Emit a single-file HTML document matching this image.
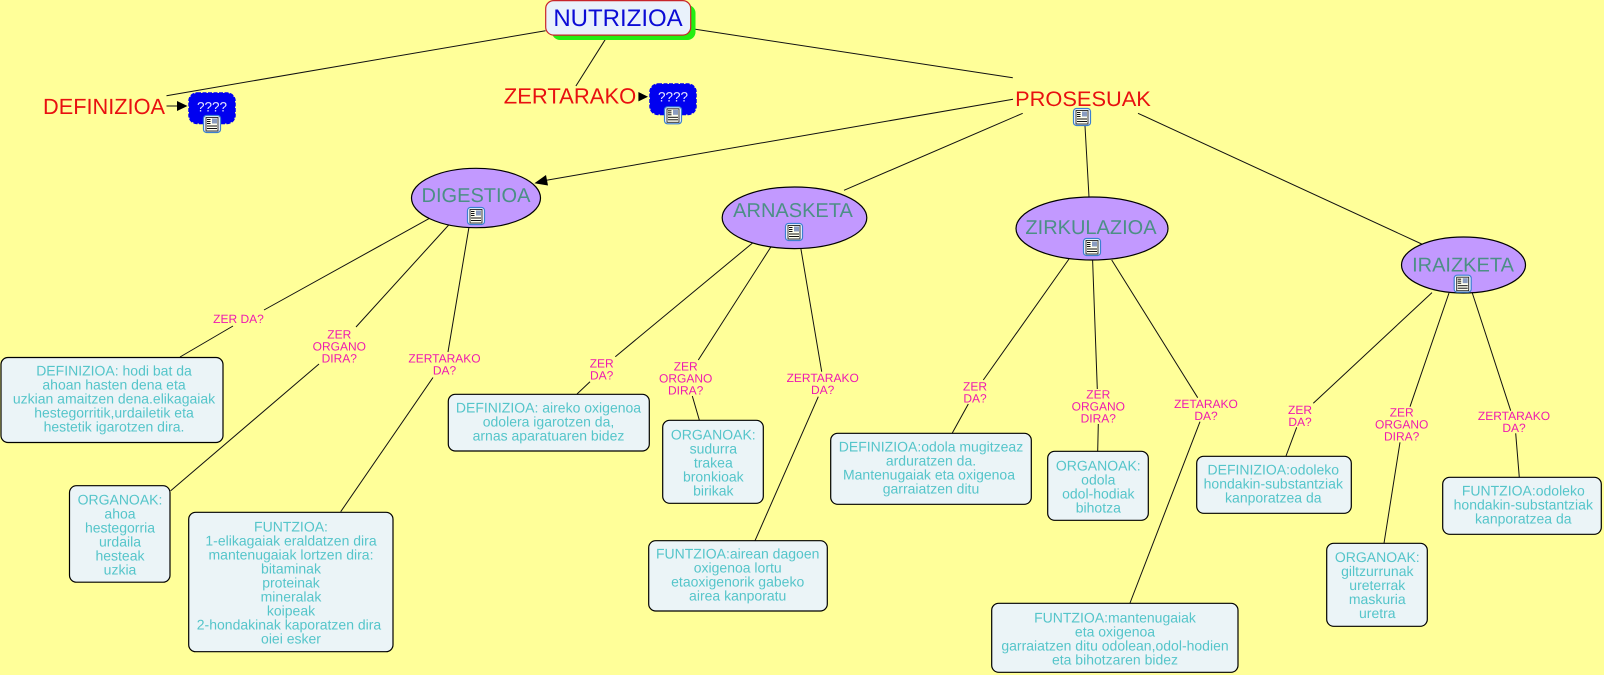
<!DOCTYPE html>
<html><head><meta charset="utf-8"><title>NUTRIZIOA</title>
<style>
html,body{margin:0;padding:0;background:#ffff99;width:1604px;height:675px;overflow:hidden}
svg{display:block}
text{font-family:"Liberation Sans",sans-serif;text-anchor:middle;text-rendering:geometricPrecision}
.l{stroke:#111;stroke-width:1;fill:none}
.b{fill:#ebf4f7;stroke:#000;stroke-width:1.2}
.t{font-size:14px;fill:#55c5ca}
.p{font-size:12px;fill:#ee1ab0}
.e{fill:#c299ff;stroke:#000;stroke-width:1.2}
.h{font-size:20px;fill:#4c8f86}
.r{fill:#e81010}
</style></head><body>
<svg width="1604" height="675" viewBox="0 0 1604 675" xmlns="http://www.w3.org/2000/svg">
<defs>
<g id="ic">
<rect x="-8.5" y="-8.5" width="17" height="17" rx="3" fill="#f2f7ff" stroke="#3b7fd0" stroke-width="1.2"/>
<rect x="-6" y="-6.5" width="12" height="13.5" fill="#fffff0" stroke="#222" stroke-width="0.9"/>
<rect x="0" y="-5.5" width="5" height="5" fill="#8a9cc0"/>
<rect x="-5" y="-5" width="3.5" height="1" fill="#111"/><rect x="-5" y="-3" width="3.5" height="1" fill="#111"/><rect x="-5" y="-1" width="3.5" height="1" fill="#111"/>
<rect x="-5" y="1.5" width="10" height="1" fill="#111"/><rect x="-5" y="4" width="10" height="1" fill="#111"/>
</g>
</defs>
<rect width="1604" height="675" fill="#ffff99"/>

<!-- connectors -->
<path class="l" d="M545.5 30.7L166.5 95.7M605.4 39.3L575.9 86M695.3 29.3L1012.8 77.7"/>
<path class="l" d="M166.5 106H178M639 96.7H640"/>
<path class="l" d="M1013 99.3L545 180.5M1022.7 113.3L844 190.3M1085 126L1089 197M1138 113.3L1421.7 244"/>
<path d="M187.5 106L177 101V111Z" fill="#000"/>
<path d="M648 96.7L638.4 92V101.4Z" fill="#000"/>
<path d="M534.4 183.3L546 175L548 185.5Z" fill="#000"/>
<path class="l" d="M429.5 218.3L264 310M233 326L180 357M448.7 225L356 327M319 364L170.7 490.7M469 227L448 352M433 377.5L340.7 511.7"/>
<path class="l" d="M758 238.5L615.3 356.7M590 381.7L577 394M774.4 241.5L698.3 360M692.3 396L699.3 420M800 243.5L821.7 371.7M818.3 396.7L755 540.7"/>
<path class="l" d="M1069 259L983.3 380M968.3 404L952.3 433M1092.6 260L1097.3 389M1098.3 424L1097.7 451M1111.7 260L1197.7 397.7M1200 421.7L1130 603"/>
<path class="l" d="M1432 292.6L1313.3 403.3M1296.7 427.3L1286 456M1449 293L1410 406.7M1400 442.3L1384 543.3M1472.3 293L1510.7 410.7M1515.7 433.3L1519.3 477.3"/>

<!-- root -->
<rect x="552" y="5" width="143.500" height="35" rx="8" fill="#22ee11"/>
<rect x="545.700" y="0.600" width="145" height="34.500" rx="8" fill="#e9f1fb" stroke="#c8242a" stroke-width="1.200"/>
<text x="618" y="26" font-size="24" fill="#0b0bd6">NUTRIZIOA</text>

<!-- top concepts -->
<text x="104" y="114" font-size="22" class="r" textLength="122" lengthAdjust="spacingAndGlyphs">DEFINIZIOA</text>
<text x="570" y="103.300" font-size="22" class="r" textLength="132.500" lengthAdjust="spacingAndGlyphs">ZERTARAKO</text>
<text x="1083" y="106" font-size="21" class="r" textLength="135.700" lengthAdjust="spacingAndGlyphs">PROSESUAK</text>

<rect x="189" y="93" width="46" height="30.500" rx="8" fill="#0000f0" stroke="#0000f0" stroke-width="1.500" stroke-dasharray="4 1.500"/>
<text x="212" y="111.700" font-size="13.500" fill="#e8e8ff">????</text>
<rect x="650" y="84" width="46" height="30.500" rx="8" fill="#0000f0" stroke="#0000f0" stroke-width="1.500" stroke-dasharray="4 1.500"/>
<text x="673" y="101.700" font-size="13.500" fill="#e8e8ff">????</text>

<!-- process ellipses -->
<ellipse class="e" cx="476" cy="198" rx="64.500" ry="29.700"/>
<text class="h" x="476" y="202">DIGESTIOA</text>
<ellipse class="e" cx="794.500" cy="217.800" rx="72.300" ry="30.800"/>
<text class="h" x="793" y="217">ARNASKETA</text>
<ellipse class="e" cx="1092" cy="228.500" rx="76" ry="31.500"/>
<text class="h" x="1091" y="234">ZIRKULAZIOA</text>
<ellipse class="e" cx="1463.500" cy="265" rx="62" ry="28"/>
<text class="h" x="1463" y="271.300">IRAIZKETA</text>

<use href="#ic" x="212" y="124"/>
<use href="#ic" x="673" y="115.300"/>
<use href="#ic" x="1082" y="117"/>
<use href="#ic" x="476" y="216"/>
<use href="#ic" x="794" y="232"/>
<use href="#ic" x="1092" y="247"/>
<use href="#ic" x="1462.700" y="283.700"/>

<!-- link labels -->
<text class="p" x="238.500" y="323">ZER DA?</text>
<text class="p" x="339.300"><tspan x="339.300" y="338.700">ZER</tspan><tspan x="339.300" y="350.700">ORGANO</tspan><tspan x="339.300" y="362.700">DIRA?</tspan></text>
<text class="p"><tspan x="444.500" y="362.700">ZERTARAKO</tspan><tspan x="444.500" y="374.700">DA?</tspan></text>
<text class="p"><tspan x="601.700" y="367.300">ZER</tspan><tspan x="601.700" y="379.300">DA?</tspan></text>
<text class="p"><tspan x="685.700" y="370.700">ZER</tspan><tspan x="685.700" y="382.700">ORGANO</tspan><tspan x="685.700" y="394.700">DIRA?</tspan></text>
<text class="p"><tspan x="822.700" y="382">ZERTARAKO</tspan><tspan x="822.700" y="394">DA?</tspan></text>
<text class="p"><tspan x="975" y="390.700">ZER</tspan><tspan x="975" y="402.700">DA?</tspan></text>
<text class="p"><tspan x="1098.300" y="398.700">ZER</tspan><tspan x="1098.300" y="410.700">ORGANO</tspan><tspan x="1098.300" y="422.700">DIRA?</tspan></text>
<text class="p"><tspan x="1206" y="408">ZETARAKO</tspan><tspan x="1206" y="420">DA?</tspan></text>
<text class="p"><tspan x="1300" y="414">ZER</tspan><tspan x="1300" y="426">DA?</tspan></text>
<text class="p"><tspan x="1401.700" y="416.700">ZER</tspan><tspan x="1401.700" y="428.700">ORGANO</tspan><tspan x="1401.700" y="440.700">DIRA?</tspan></text>
<text class="p"><tspan x="1514" y="420">ZERTARAKO</tspan><tspan x="1514" y="432">DA?</tspan></text>

<!-- boxes -->
<rect class="b" x="1" y="357.500" width="222" height="85" rx="7"/>
<text class="t"><tspan x="114" y="375.700">DEFINIZIOA: hodi bat da</tspan><tspan x="114" y="389.700">ahoan hasten dena eta</tspan><tspan x="114" y="403.700">uzkian amaitzen dena.elikagaiak</tspan><tspan x="114" y="417.700">hestegorritik,urdailetik eta</tspan><tspan x="114" y="431.700">hestetik igarotzen dira.</tspan></text>

<rect class="b" x="69.500" y="485.700" width="100.500" height="96.500" rx="7"/>
<text class="t"><tspan x="120" y="504.300">ORGANOAK:</tspan><tspan x="120" y="518.300">ahoa</tspan><tspan x="120" y="532.300">hestegorria</tspan><tspan x="120" y="546.300">urdaila</tspan><tspan x="120" y="560.300">hesteak</tspan><tspan x="120" y="574.300">uzkia</tspan></text>

<rect class="b" x="188.700" y="512.300" width="204.300" height="139.400" rx="7"/>
<text class="t"><tspan x="291" y="531.300">FUNTZIOA:</tspan><tspan x="291" y="545.300">1-elikagaiak eraldatzen dira</tspan><tspan x="291" y="559.300">mantenugaiak lortzen dira:</tspan><tspan x="291" y="573.300">bitaminak</tspan><tspan x="291" y="587.300">proteinak</tspan><tspan x="291" y="601.300">mineralak</tspan><tspan x="291" y="615.300">koipeak</tspan><tspan x="289" y="629.300">2-hondakinak kaporatzen dira</tspan><tspan x="291" y="643.300">oiei esker</tspan></text>

<rect class="b" x="448.300" y="394.300" width="201" height="56.700" rx="7"/>
<text class="t"><tspan x="548.500" y="412.700">DEFINIZIOA: aireko oxigenoa</tspan><tspan x="548.500" y="426.700">odolera igarotzen da,</tspan><tspan x="548.500" y="440.700">arnas aparatuaren bidez</tspan></text>

<rect class="b" x="662.700" y="420.300" width="100.600" height="83" rx="7"/>
<text class="t"><tspan x="713.300" y="439.300">ORGANOAK:</tspan><tspan x="713.300" y="453.300">sudurra</tspan><tspan x="713.300" y="467.300">trakea</tspan><tspan x="713.300" y="481.300">bronkioak</tspan><tspan x="713.300" y="495.300">birikak</tspan></text>

<rect class="b" x="648.700" y="540.700" width="178.600" height="70.300" rx="7"/>
<text class="t"><tspan x="737.700" y="558.300">FUNTZIOA:airean dagoen</tspan><tspan x="737.700" y="572.300">oxigenoa lortu</tspan><tspan x="737.700" y="586.300">etaoxigenorik gabeko</tspan><tspan x="737.700" y="600.300">airea kanporatu</tspan></text>

<rect class="b" x="830.700" y="433.300" width="200.600" height="71" rx="7"/>
<text class="t"><tspan x="931" y="451.700">DEFINIZIOA:odola mugitzeaz</tspan><tspan x="931" y="465.700">arduratzen da.</tspan><tspan x="929" y="479.700">Mantenugaiak eta oxigenoa</tspan><tspan x="931" y="493.700">garraiatzen ditu</tspan></text>

<rect class="b" x="1047.700" y="451.300" width="100.600" height="69" rx="7"/>
<text class="t"><tspan x="1098.300" y="470.300">ORGANOAK:</tspan><tspan x="1098.300" y="484.300">odola</tspan><tspan x="1098.300" y="498.300">odol-hodiak</tspan><tspan x="1098.300" y="512.300">bihotza</tspan></text>

<rect class="b" x="991.700" y="603.300" width="246.300" height="69" rx="7"/>
<text class="t"><tspan x="1115" y="622.300">FUNTZIOA:mantenugaiak</tspan><tspan x="1115" y="636.300">eta oxigenoa</tspan><tspan x="1115" y="650.300">garraiatzen ditu odolean,odol-hodien</tspan><tspan x="1115" y="664.300">eta bihotzaren bidez</tspan></text>

<rect class="b" x="1196.700" y="456.300" width="154.600" height="57" rx="7"/>
<text class="t"><tspan x="1273.300" y="474.700">DEFINIZIOA:odoleko</tspan><tspan x="1273.300" y="488.700">hondakin-substantziak</tspan><tspan x="1273.300" y="502.700">kanporatzea da</tspan></text>

<rect class="b" x="1326.700" y="543.300" width="100.600" height="83" rx="7"/>
<text class="t"><tspan x="1377.300" y="562">ORGANOAK:</tspan><tspan x="1377.300" y="576">giltzurrunak</tspan><tspan x="1377.300" y="590">ureterrak</tspan><tspan x="1377.300" y="604">maskuria</tspan><tspan x="1377.300" y="618">uretra</tspan></text>

<rect class="b" x="1442.700" y="477.300" width="158.600" height="57" rx="7"/>
<text class="t"><tspan x="1523.300" y="495.300">FUNTZIOA:odoleko</tspan><tspan x="1523.300" y="509.300">hondakin-substantziak</tspan><tspan x="1523.300" y="523.300">kanporatzea da</tspan></text>
</svg>
</body></html>
